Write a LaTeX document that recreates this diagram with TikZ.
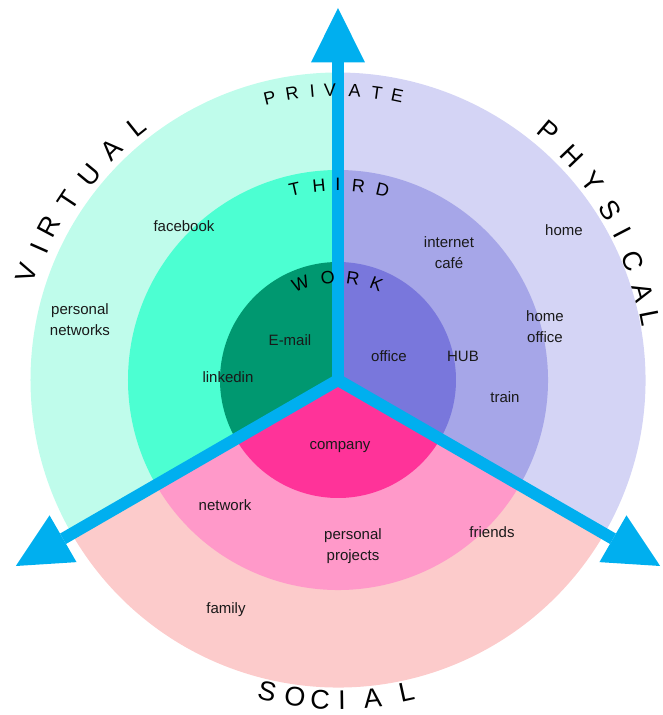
\documentclass[tikz,border=0pt]{standalone}
\usepackage{fontspec}
\setmainfont{Liberation Sans}
\usetikzlibrary{arrows.meta}

% ring colours: outer / middle / inner for each sector
\definecolor{virtOut}{RGB}{191,252,235}
\definecolor{virtMid}{RGB}{76,255,210}
\definecolor{virtIn}{RGB}{0,152,112}
\definecolor{physOut}{RGB}{212,212,245}
\definecolor{physMid}{RGB}{166,166,232}
\definecolor{physIn}{RGB}{121,119,220}
\definecolor{socOut}{RGB}{252,203,203}
\definecolor{socMid}{RGB}{255,153,201}
\definecolor{socIn}{RGB}{255,51,153}
\definecolor{armcol}{RGB}{0,175,239}
\definecolor{ink}{RGB}{25,25,25}

\tikzset{
  lbl/.style={font=\fontsize{15}{21}\selectfont, text=ink, align=center, inner sep=0pt},
  bigletter/.style={font=\fontsize{27}{27}\selectfont, text=black, inner sep=0pt, anchor=center},
  ringletter/.style={font=\fontsize{18}{18}\selectfont, text=black, inner sep=0pt, anchor=center},
  arm/.style={draw=armcol, line width=12pt, line cap=butt,
    -{Triangle[length=54.5pt, width=54pt, line width=0pt]}},
}

\newcommand{\sector}[4]{% colour, radius, start angle, end angle
  \fill[#1] (0,0) -- (#3:#2) arc[start angle=#3, end angle=#4, radius=#2] -- cycle;}

\begin{document}
\begin{tikzpicture}[x=1pt, y=1pt]
\useasboundingbox (-338,-335) rectangle (325,380);

% outer ring
\sector{virtOut}{307.5}{90}{210}
\sector{physOut}{307.5}{-30}{90}
\sector{socOut}{307.5}{210}{330}
% middle ring
\sector{virtMid}{210}{90}{210}
\sector{physMid}{210}{-30}{90}
\sector{socMid}{210}{210}{330}
% inner disc
\sector{virtIn}{118}{90}{210}
\sector{physIn}{118}{-30}{90}
\sector{socIn}{118}{210}{330}

% the three axes
\coordinate (c) at (0,0);
\coordinate (tipPrivate) at (90:372);
\coordinate (tipVirtual) at (210:372);
\coordinate (tipPhysical) at (330:372);
\draw[arm] (c) -- (tipPrivate);
\draw[arm] (c) -- (tipVirtual);
\draw[arm] (c) -- (tipPhysical);

% labels inside the rings
\node[lbl] (facebook) at (-154,154) {facebook};
\node[lbl] (cafe) at (111,127) {internet\\café};
\node[lbl] (home) at (226,150) {home};
\node[lbl] (pnet) at (-258,60) {personal\\networks};
\node[lbl] (homeoffice) at (207,53) {home\\office};
\node[lbl] (email) at (-48,40) {E-mail};
\node[lbl] (office) at (51,24) {office};
\node[lbl] (hub) at (125,24) {HUB};
\node[lbl] (linkedin) at (-110,3) {linkedin};
\node[lbl] (train) at (167,-17) {train};
\node[lbl] (company) at (2,-67) {company};
\node[lbl] (network) at (-113,-125) {network};
\node[lbl] (pproj) at (15,-166) {personal\\projects};
\node[lbl] (friends) at (154,-152) {friends};
\node[lbl] (family) at (-112,-230) {family};

% ring titles, set letter by letter along the arcs
\foreach \a/\ch [count=\i] in {103.6/P,99.1/R,95.1/I,91.6/V,86.7/A,82.3/T,78.2/E}
  \node[ringletter, rotate=\a-90] (private-\i) at (\a:290) {\ch};
\foreach \a/\ch [count=\i] in {102.8/T,95.6/H,90/I,84/R,76.8/D}
  \node[ringletter, rotate=\a-90] (third-\i) at (\a:195.5) {\ch};
\foreach \a/\ch [count=\i] in {111.4/W,95.7/O,81.6/R,68.1/K}
  \node[ringletter, rotate=\a-90] (work-\i) at (\a:103) {\ch};

% sector titles outside the disc
\foreach \a/\r/\ch [count=\i] in {161.0/329/V,156.2/326/I,152.0/327/R,146.4/324/T,140.4/322/U,134.6/323/A,128.5/324/L}
  \node[bigletter, rotate=\a-90] (virtual-\i) at (\a:\r) {\ch};
\foreach \a/\r/\ch [count=\i] in {49.7/326/P,43.8/324/H,37.9/322/Y,32.0/321/S,27.4/320/I,21.9/318/C,16.0/317/A,11.2/318/L}
  \node[bigletter, rotate=\a-90] (physical-\i) at (\a:\r) {\ch};
\foreach \a/\r/\ch [count=\i] in {-102.8/319/S,-97.7/320/O,-93.2/320/C,-89.3/320/I,-83.8/320/A,-77.6/319/L}
  \node[bigletter, rotate=\a+90] (social-\i) at (\a:\r) {\ch};

\end{tikzpicture}
\end{document}
